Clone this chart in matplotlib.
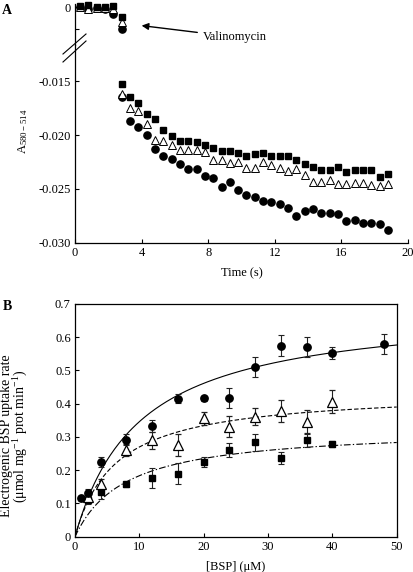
import numpy as np
import matplotlib
matplotlib.use("Agg")
import matplotlib.pyplot as plt
from matplotlib.lines import Line2D

plt.rcParams['font.family'] = ['Liberation Serif', 'DejaVu Serif']
plt.rcParams['mathtext.default'] = 'regular'
plt.rcParams['axes.unicode_minus'] = False
plt.rcParams['font.size'] = 9

# ---- panel A: absorbance traces ----
t_pre = [0.3, 0.8, 1.3, 1.8, 2.3, 2.8]
sq_pre = [0.0001, 0.0002, 0.0, 0.0, 0.0001, -0.0009]
tri_pre = [0.0, -0.0002, -0.0001, -0.0001, -0.0002, -0.0014]
circ_pre = [0.0, -0.0002, -0.0001, -0.0002, -0.0006, -0.0020]

t_post = [2.8, 3.3, 3.8, 4.3, 4.8, 5.3, 5.8, 6.3, 6.8, 7.3, 7.8, 8.3, 8.8, 9.3, 9.8, 10.3, 10.8,
          11.3, 11.8, 12.3, 12.8, 13.3, 13.8, 14.3, 14.8, 15.3, 15.8, 16.3, 16.8, 17.3, 17.8, 18.3, 18.8]
sq_post = [-0.01528, -0.01649, -0.01704, -0.01804, -0.01846, -0.01957, -0.02011, -0.02057, -0.02057,
           -0.02067, -0.02092, -0.02117, -0.02148, -0.02148, -0.02169, -0.02191, -0.02175, -0.02169,
           -0.02191, -0.02191, -0.02191, -0.02234, -0.02265, -0.02296, -0.02327, -0.02321, -0.02299,
           -0.02347, -0.02327, -0.02321, -0.02321, -0.02389, -0.02361]
tri_post = [-0.01618, -0.01745, -0.01779, -0.01897, -0.02048, -0.02057, -0.02089, -0.02138, -0.02138,
            -0.02138, -0.02161, -0.02231, -0.02231, -0.02259, -0.02247, -0.02308, -0.02308, -0.02247,
            -0.02282, -0.02303, -0.02331, -0.02317, -0.02367, -0.02433, -0.02438, -0.02421, -0.02459,
            -0.02459, -0.02448, -0.02442, -0.02462, -0.02471, -0.02458]
circ_post = [-0.01649, -0.01869, -0.01927, -0.01999, -0.02132, -0.02194, -0.02226, -0.02268, -0.02313,
             -0.02317, -0.02383, -0.02401, -0.02485, -0.02438, -0.02513, -0.02556, -0.02578, -0.02609,
             -0.02623, -0.02642, -0.02679, -0.02751, -0.02705, -0.02689, -0.02723, -0.02723, -0.0273,
             -0.02795, -0.02789, -0.02819, -0.02819, -0.02828, -0.02881]

# ---- panel B: uptake rates ----
conc_circ = [1, 2, 4, 8, 12, 16, 20, 24, 28, 32, 36, 40, 48]
rate_circ = [0.115, 0.13, 0.226, 0.292, 0.333, 0.415, 0.416, 0.417, 0.511, 0.575, 0.570, 0.553, 0.580]
err_circ = [0.005, 0.013, 0.015, 0.017, 0.017, 0.013, 0.008, 0.03, 0.031, 0.032, 0.03, 0.019, 0.03]

conc_tri = [2, 4, 8, 12, 16, 20, 24, 28, 32, 36, 40]
rate_tri = [0.12, 0.158, 0.26, 0.29, 0.276, 0.356, 0.331, 0.361, 0.378, 0.346, 0.406]
err_tri = [0.01, 0.017, 0.018, 0.026, 0.033, 0.02, 0.032, 0.025, 0.032, 0.034, 0.035]

conc_sq = [2, 4, 8, 12, 16, 20, 24, 28, 32, 36, 40]
rate_sq = [0.11, 0.135, 0.158, 0.177, 0.19, 0.224, 0.261, 0.284, 0.237, 0.290, 0.279]
err_sq = [0.012, 0.022, 0.008, 0.029, 0.031, 0.015, 0.02, 0.025, 0.018, 0.02, 0.008]

# Michaelis-Menten fit parameters (Vmax, Km)
fit_circ = [0.692, 10.0]
fit_tri = [0.439, 6.27]
fit_sq = [0.328, 7.88]

W, H = 414, 572


def box(x0, y0, x1, y1):
    return [x0 / W, 1 - y1 / H, (x1 - x0) / W, (y1 - y0) / H]


fig = plt.figure(figsize=(W / 100, H / 100), dpi=100, facecolor='white')

ax_top = fig.add_axes(box(75, 4, 408, 45))
ax_a = fig.add_axes(box(75, 45, 408, 242.7))
ax_b = fig.add_axes(box(75, 304, 396.7, 536.7))

sq_kw = dict(marker='s', ms=4.7, color='black', ls='none', clip_on=False)
tri_kw = dict(marker='^', ms=5.2, mfc='white', mec='black', mew=0.7, ls='none', clip_on=False)
ci_kw = dict(marker='o', ms=5.2, color='black', ls='none', clip_on=False)

for ax, t, s, tr, c in [(ax_top, t_pre, sq_pre, tri_pre, circ_pre),
                        (ax_a, t_post, sq_post, tri_post, circ_post)]:
    ax.plot(t, c, **ci_kw)
    ax.plot(t, tr, **tri_kw)
    ax.plot(t, s, **sq_kw)
    ax.set_xlim(0, 20)
    ax.tick_params(direction='in', length=3, width=0.8, labelsize=9, pad=3)
    for side in ['top', 'right']:
        ax.spines[side].set_visible(False)
    ax.spines['left'].set_linewidth(0.9)
    ax.spines['bottom'].set_linewidth(0.9)

ax_top.set_ylim(-0.003502, 0.000307)
ax_top.spines['bottom'].set_visible(False)
ax_top.set_xticks([])
ax_top.set_yticks([0, -0.002])
ax_top.set_yticklabels(['0', ''])
ax_top.patch.set_alpha(0)

ax_a.set_ylim(-0.0300, -0.011628)
ax_a.set_yticks([-0.015, -0.020, -0.025, -0.030])
ax_a.set_yticklabels(['-0.015', '-0.020', '-0.025', '-0.030'])
ax_a.set_xticks([0, 4, 8, 12, 16, 20])
ax_a.set_xlabel('Time (s)', fontsize=9, labelpad=6)
ax_a.patch.set_alpha(0)

# break marks on the y axis
for y0, y1 in [(54, 34), (62, 41)]:
    fig.add_artist(Line2D([63 / W, 86 / W], [1 - y0 / H, 1 - y1 / H], color='black', lw=0.8))

ax_top.annotate('Valinomycin', xy=(4.0, -0.0017), xytext=(9.6, -0.00276),
                ha='center', va='center', fontsize=9, annotation_clip=False,
                arrowprops=dict(arrowstyle='-|>', color='black', lw=1.0, mutation_scale=10,
                                shrinkA=2, shrinkB=0))

fig.text(23 / W, 1 - 131 / H, 'A$_{580-514}$', rotation=90, ha='center', va='center', fontsize=9)
fig.text(7 / W, 1 - 10 / H, 'A', fontsize=10, fontweight='bold', ha='center', va='center')
fig.text(7 / W, 1 - 307 / H, 'B', fontsize=10, fontweight='bold', ha='center', va='center')

# ---- panel B ----
xs = np.linspace(0, 50, 300)
ax_b.plot(xs, fit_circ[0] * xs / (fit_circ[1] + xs), color='black', lw=0.8)
ax_b.plot(xs, fit_tri[0] * xs / (fit_tri[1] + xs), color='black', lw=0.8, dashes=(4, 2))
ax_b.plot(xs, fit_sq[0] * xs / (fit_sq[1] + xs), color='black', lw=0.8, dashes=(6, 2, 1.2, 2))

eb_kw = dict(ecolor='#222222', elinewidth=0.8, capsize=2.5, capthick=0.8, ls='none')
ax_b.errorbar(conc_sq, rate_sq, yerr=err_sq, fmt='s', ms=5, color='black', **eb_kw)
ax_b.errorbar(conc_tri, rate_tri, yerr=err_tri, fmt='^', ms=6.5, mfc='white', mec='black', mew=0.9, **eb_kw)
ax_b.errorbar(conc_circ, rate_circ, yerr=err_circ, fmt='o', ms=5.3, color='black', **eb_kw)

ax_b.set_xlim(0, 50)
ax_b.set_ylim(0, 0.7)
ax_b.set_xticks([0, 10, 20, 30, 40, 50])
ax_b.set_yticks([0, 0.1, 0.2, 0.3, 0.4, 0.5, 0.6, 0.7])
ax_b.set_yticklabels(['0', '0.1', '0.2', '0.3', '0.4', '0.5', '0.6', '0.7'])
ax_b.tick_params(direction='in', length=3, width=0.8, labelsize=9, pad=3)
for sp in ax_b.spines.values():
    sp.set_linewidth(0.9)
ax_b.set_xlabel('[BSP] (\u03bcM)', fontsize=9, labelpad=6)

fig.text(15 / W, 1 - 436 / H,
         'Electrogenic BSP uptake rate\n(\u03bcmol mg$^{-1}$ prot min$^{-1}$)',
         rotation=90, ha='center', va='center', fontsize=10, linespacing=0.9,
         multialignment='center')

fig.savefig('out.png', dpi=100)
